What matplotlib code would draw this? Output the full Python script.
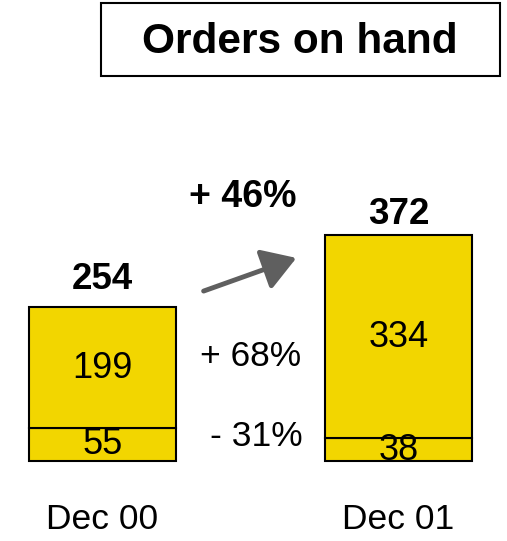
import numpy as np
import matplotlib.pyplot as plt
from matplotlib.patches import FancyArrowPatch, Rectangle

plt.rcParams['font.family'] = ['Liberation Sans', 'DejaVu Sans']

# data
periods = ["Dec 00", "Dec 01"]
lower = [55, 38]
upper = [199, 334]
totals = [254, 372]
change_upper = "+ 68%"
change_lower = "- 31%"
change_total = "+ 46%"

W, H = 507, 541
fig = plt.figure(figsize=(W / 100, H / 100), dpi=100)
ax = fig.add_axes([0, 0, 1, 1])

# pixel mapping: value 0 at 461px from top, 0.607 px per unit
scale = 0.607
base = H - 461
ax.set_ylim(-base / scale, (H - base) / scale)
ax.set_xlim(-102.5 / 296, (W - 102.5) / 296)
ax.axis("off")

x = np.arange(len(periods))
yellow = "#f2d600"
ax.bar(x, lower, width=0.497, color=yellow, edgecolor="black", linewidth=1.5)
ax.bar(x, upper, bottom=lower, width=0.497, color=yellow, edgecolor="black", linewidth=1.5)

total_gap = [45, 34]  # label distance above bar (value units)
for i in range(len(x)):
    ax.text(x[i], lower[i] + upper[i] / 2 - 2, str(upper[i]), ha="center", va="center", fontsize=26)
    ax.text(x[i], lower[i] / 2 - 1, str(lower[i]), ha="center", va="center", fontsize=26)
    ax.text(x[i], totals[i] + total_gap[i], str(totals[i]), ha="center", va="center",
            fontsize=26.5, fontweight="bold")
    ax.text(x[i], -97, periods[i], ha="center", va="center", fontsize=25.5)

def px(xp, yp):
    return xp / W, 1 - yp / H

fig.text(*px(251, 357), change_upper, ha="center", va="center", fontsize=25.5)
fig.text(*px(256, 437), change_lower, ha="center", va="center", fontsize=25.5)
fig.text(*px(243, 197), change_total, ha="center", va="center", fontsize=27, fontweight="bold")

arrow = FancyArrowPatch(px(201, 292), px(299, 257), transform=fig.transFigure,
                        arrowstyle="-|>,head_length=12,head_width=7.5",
                        color="#5f5f5f", linewidth=3.5, mutation_scale=1.7)
fig.patches.append(arrow)

# title box
fig.patches.append(Rectangle(px(101, 76), 399 / W, 73 / H, transform=fig.transFigure,
                             facecolor="white", edgecolor="black", linewidth=1.5))
fig.text(*px(300, 42), "Orders on hand", ha="center", va="center", fontsize=30.5, fontweight="bold")

fig.savefig("out.png", dpi=100)
